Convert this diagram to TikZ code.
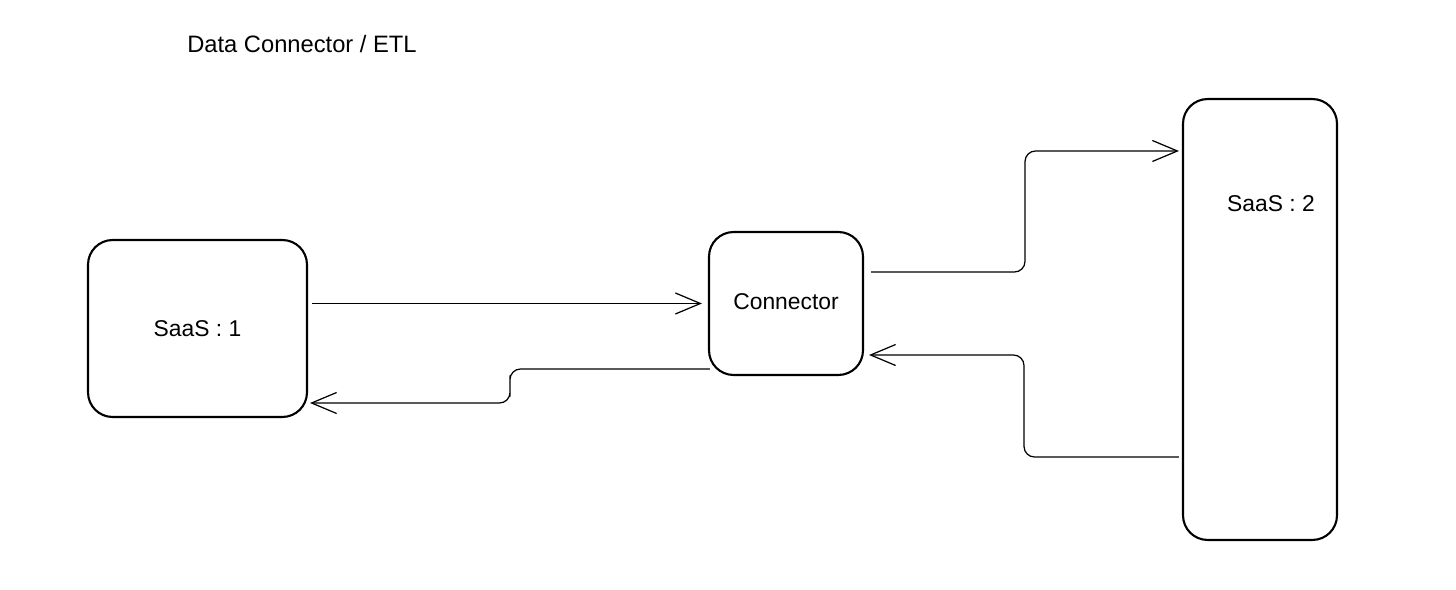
\documentclass[tikz,border=0pt]{standalone}
\usepackage{fontspec}
\setmainfont{Liberation Sans}
\usetikzlibrary{arrows.meta,calc}

\tikzset{
  box/.style={draw, line width=1.2pt, rounded corners=14pt, inner sep=0pt},
  lbl/.style={font=\fontsize{13}{15}\selectfont},
  flow/.style={line width=0.7pt, rounded corners=6pt,
    -{Straight Barb[length=0.5cm,width=0.42cm,line width=0.7pt]}}
}

\begin{document}
\begin{tikzpicture}[x=0.02cm, y=-0.02cm]
    % Canvas
    \useasboundingbox (0,0) rectangle (1456,590);

    % Title
    \node[lbl, font=\fontsize{13.5}{15}\selectfont] (title) at (302,44) {Data Connector / ETL};

    % Boxes
    \node[box, minimum width=4.38cm, minimum height=3.54cm] (saas1) at (197.5,328.5) {};
    \node[box, minimum width=3.08cm, minimum height=2.86cm] (conn) at (786,303.5) {};
    \node[box, minimum width=3.08cm, minimum height=8.82cm] (saas2) at (1260,319.5) {};

    % Labels
    \node[lbl] (saas1lbl) at (saas1.center) {SaaS : 1};
    \node[lbl] (connlbl) at (786,302) {Connector};
    \node[lbl] (saas2lbl) at (1271,204) {SaaS : 2};

    % End points of the connectors
    \coordinate (a1) at ([shift={(4,-25)}]saas1.east);
    \coordinate (b1) at ([shift={(-6,0)}]conn.west);
    \coordinate (a2) at ([shift={(2,65.5)}]conn.west);
    \coordinate (b2) at ([shift={(2,74.5)}]saas1.east);
    \coordinate (a3) at ([shift={(7,-31.5)}]conn.east);
    \coordinate (b3) at ([shift={(-3,-168.5)}]saas2.west);
    \coordinate (a4) at ([shift={(-3,137.5)}]saas2.west);
    \coordinate (b4) at ([shift={(5,51.5)}]conn.east);

    % Connectors
    \draw[flow] (a1) -- (a1 -| b1);
    \draw[flow] (a2) -| ($(a2)!0.5!(b2)$) |- (b2);
    \draw[flow] (a3) -| ($(a3)!0.5!(b3)$) |- (b3);
    \draw[flow] (a4) -| ($(a4)!0.5!(b4)$) |- (b4);
\end{tikzpicture}
\end{document}
